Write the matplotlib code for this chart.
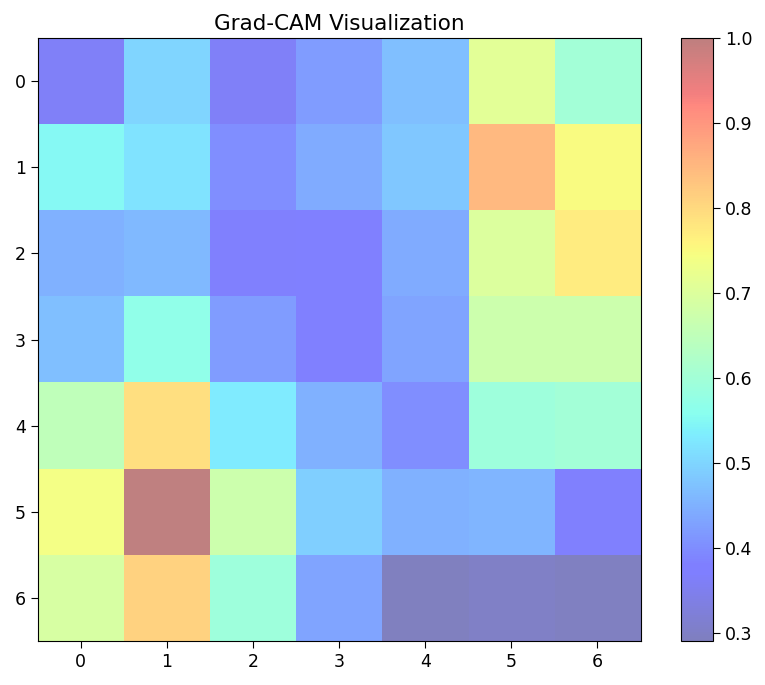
import matplotlib
matplotlib.use("Agg")
import matplotlib.pyplot as plt
import numpy as np

# heatmap values (rows 0..6, cols 0..6)
row0 = [0.36, 0.50, 0.36, 0.42, 0.47, 0.71, 0.60]
row1 = [0.55, 0.52, 0.40, 0.44, 0.48, 0.85, 0.75]
row2 = [0.45, 0.46, 0.37, 0.38, 0.44, 0.70, 0.77]
row3 = [0.47, 0.57, 0.42, 0.38, 0.43, 0.67, 0.67]
row4 = [0.65, 0.79, 0.53, 0.45, 0.40, 0.59, 0.60]
row5 = [0.74, 1.00, 0.67, 0.49, 0.45, 0.455, 0.37]
row6 = [0.69, 0.81, 0.59, 0.43, 0.29, 0.30, 0.295]

cam = np.array([row0, row1, row2, row3, row4, row5, row6])

fig = plt.figure(figsize=(7.65, 6.85), dpi=100)
ax = fig.add_axes([37/765, 1 - 641/685, 604/765, 603/685])
cax = fig.add_axes([681/765, 1 - 641/685, 32/765, 603/685])
im = ax.imshow(cam, cmap="jet", alpha=0.5)
cb = fig.colorbar(im, cax=cax)
ax.set_title("Grad-CAM Visualization", fontsize=15.5)
ax.tick_params(labelsize=12.5, length=5)
cb.ax.tick_params(labelsize=12.5, length=5)
plt.savefig("out.png")
